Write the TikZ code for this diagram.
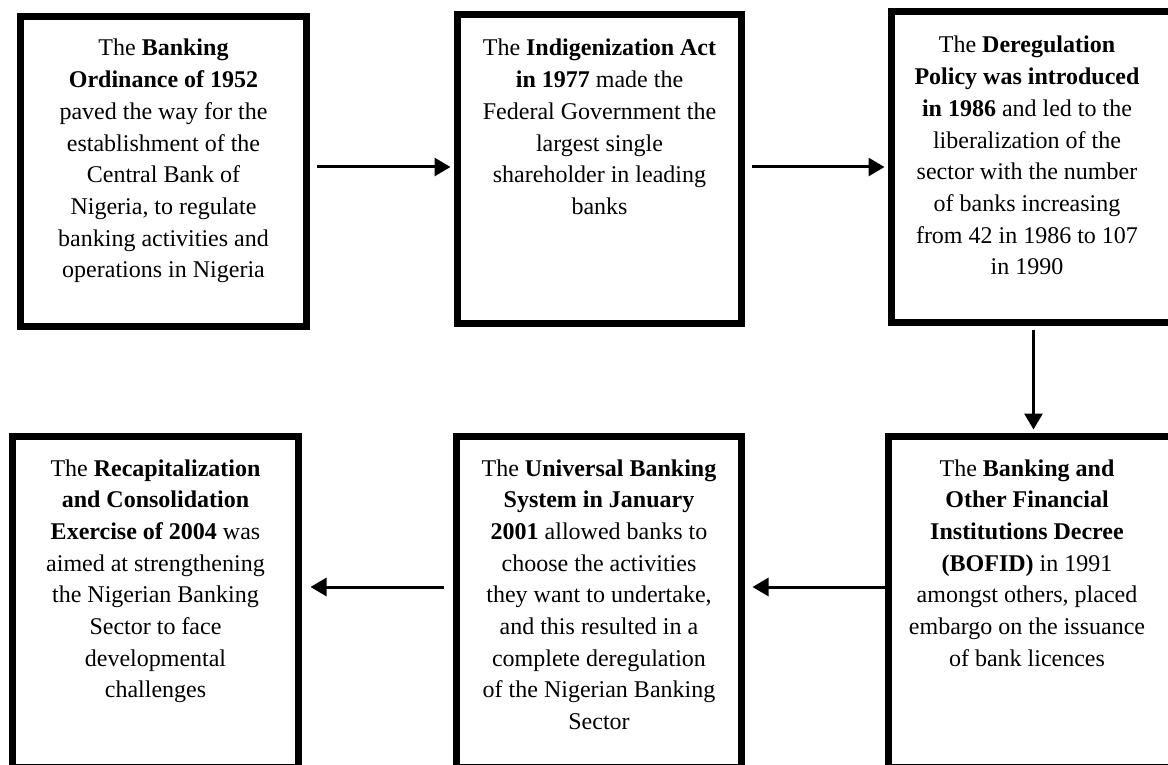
\documentclass[tikz,border=0pt]{standalone}
\usepackage{fontspec}
\setmainfont{Liberation Serif}
\usetikzlibrary{arrows.meta}
\tikzset{
  stage/.style={draw=black, line width=7pt, rectangle, inner sep=0pt},
  flowarrow/.style={line width=3pt, -{Triangle[length=16pt,width=18pt]}},
  stagetext/.style={anchor=base, inner sep=0pt},
}
\newcommand{\stagetxt}[1]{\parbox[t]{275pt}{\centering\fontsize{24pt}{31.7pt}\selectfont #1}}
\begin{document}
\begin{tikzpicture}[x=1pt,y=-1pt]
\useasboundingbox (0,0) rectangle (1168,765);
\fill[white] (0,0) rectangle (1168,765);
\clip (0,0) rectangle (1168,765);

% boxes
\node[stage, minimum width=286pt, minimum height=310pt] (b1) at (163.5,171.5) {};
\node[stage, minimum width=284pt, minimum height=309pt] (b2) at (599.5,169) {};
\node[stage, minimum width=284pt, minimum height=311pt] (b3) at (1033.5,167) {};
\node[stage, minimum width=287pt, minimum height=331pt] (b4) at (1032,602) {};
\node[stage, minimum width=285pt, minimum height=331pt] (b5) at (599,602) {};
\node[stage, minimum width=286pt, minimum height=331pt] (b6) at (155.5,602) {};

% texts
\node[stagetext] (t1) at (163.5,56) {\stagetxt{The \textbf{Banking}\\ \textbf{Ordinance of 1952}\\ paved the way for the\\ establishment of the\\ Central Bank of\\ Nigeria, to regulate\\ banking activities and\\ operations in Nigeria}};
\node[stagetext] (t2) at (599.5,56) {\stagetxt{The \textbf{Indigenization Act}\\ \textbf{in 1977} made the\\ Federal Government the\\ largest single\\ shareholder in leading\\ banks}};
\node[stagetext] (t3) at (1027,53) {\stagetxt{The \textbf{Deregulation}\\ \textbf{Policy was introduced}\\ \textbf{in 1986} and led to the\\ liberalization of the\\ sector with the number\\ of banks increasing\\ from 42 in 1986 to 107\\ in 1990}};
\node[stagetext] (t4) at (1027,476) {\stagetxt{The \textbf{Banking and}\\ \textbf{Other Financial}\\ \textbf{Institutions Decree}\\ \textbf{(BOFID)} in 1991\\ amongst others, placed\\ embargo on the issuance\\ of bank licences}};
\node[stagetext] (t5) at (599,476) {\stagetxt{The \textbf{Universal Banking}\\ \textbf{System in January}\\ \textbf{2001} allowed banks to\\ choose the activities\\ they want to undertake,\\ and this resulted in a\\ complete deregulation\\ of the Nigerian Banking\\ Sector}};
\node[stagetext] (t6) at (155.5,476) {\stagetxt{The \textbf{Recapitalization}\\ \textbf{and Consolidation}\\ \textbf{Exercise of 2004} was\\ aimed at strengthening\\ the Nigerian Banking\\ Sector to face\\ developmental\\ challenges}};

% connectors
\coordinate (a1s) at ([xshift=7pt,yshift=4.5pt]b1.east);
\coordinate (a1e) at (a1s -| b2.west);
\draw[flowarrow] (a1s) -- ([xshift=-3.5pt]a1e);

\coordinate (a2s) at ([xshift=6.5pt,yshift=2pt]b2.east);
\coordinate (a2e) at (a2s -| b3.west);
\draw[flowarrow] (a2s) -- ([xshift=-3.5pt]a2e);

\coordinate (a3s) at ([yshift=-3.5pt]b3.south);
\coordinate (a3e) at (a3s |- b4.north);
\draw[flowarrow] (a3s) -- ([yshift=3.5pt]a3e);

\coordinate (a4s) at ([yshift=15pt]b4.west);
\coordinate (a4e) at (a4s -| b5.east);
\draw[flowarrow] (a4s) -- ([xshift=7.5pt]a4e);

\coordinate (a5s) at ([xshift=-9.5pt,yshift=15pt]b5.west);
\coordinate (a5e) at (a5s -| b6.east);
\draw[flowarrow] (a5s) -- ([xshift=8.5pt]a5e);
\end{tikzpicture}
\end{document}
